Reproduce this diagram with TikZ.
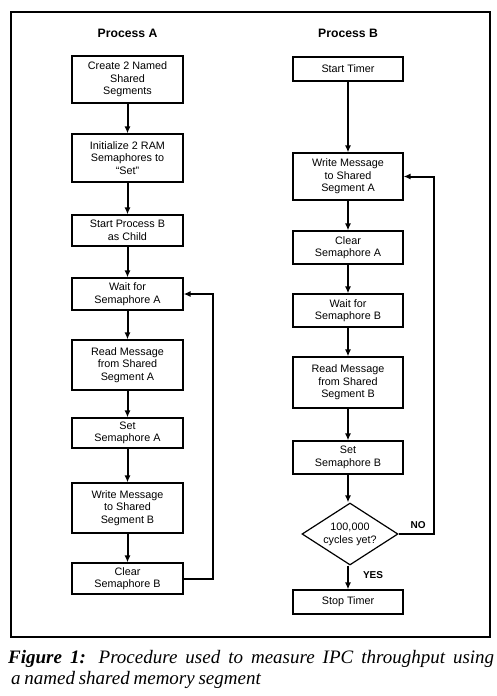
\documentclass[tikz,border=0pt]{standalone}
\usepackage{fontspec}
\setmainfont{Liberation Sans}
\newfontfamily\capfont{Liberation Serif}
\usetikzlibrary{shapes.geometric,arrows.meta}
\begin{document}
\begin{tikzpicture}[x=1pt,y=-1pt,
  boxA/.style={draw,line width=1.2pt,minimum width=111pt,inner sep=0pt,align=center,
    font=\fontsize{10.8}{12.5}\selectfont},
  boxB/.style={boxA,minimum width=110pt},
  title/.style={font=\fontsize{12.2}{14}\selectfont\bfseries},
  conn/.style={line width=2pt,-{Latex[length=7pt,width=6pt]}},
  lbl/.style={font=\fontsize{10}{11}\selectfont\bfseries,inner sep=0pt}]
\useasboundingbox (0,0) rectangle (496,696);
\draw[line width=1.2pt] (11,12) rectangle (490,637);
\node[title] (ta) at (127.5,33) {Process A};
\node[title] (tb) at (348,33) {Process B};
% Process A
\node[boxA,minimum height=47pt] (a1) at (127.5,79.5) {Create 2 Named\\Shared\\Segments};
\node[boxA,minimum height=48pt] (a2) at (127.5,158) {Initialize 2 RAM\\Semaphores to\\``Set''};
\node[boxA,minimum height=31pt] (a3) at (127.5,230.5) {Start Process B\\as Child};
\node[boxA,minimum height=32pt] (a4) at (127.5,294) {Wait for\\Semaphore A};
\node[boxA,minimum height=50pt] (a5) at (127.5,365) {Read Message\\from Shared\\Segment A};
\node[boxA,minimum height=30pt] (a6) at (127.5,433) {Set\\Semaphore A};
\node[boxA,minimum height=50pt] (a7) at (127.5,508) {Write Message\\to Shared\\Segment B};
\node[boxA,minimum height=31pt] (a8) at (127.5,578.5) {Clear\\Semaphore B};
\coordinate (ra) at (213,578.5);
\draw[conn] (a1) -- (a2);
\draw[conn] (a2) -- (a3);
\draw[conn] (a3) -- (a4);
\draw[conn] (a4) -- (a5);
\draw[conn] (a5) -- (a6);
\draw[conn] (a6) -- (a7);
\draw[conn] (a7) -- (a8);
\draw[conn] (a8.east) -- (ra) |- (a4.east);
% Process B
\node[boxB,minimum height=24pt] (b1) at (348,69) {Start Timer};
\node[boxB,minimum height=47pt] (b2) at (348,176.5) {Write Message\\to Shared\\Segment A};
\node[boxB,minimum height=33pt] (b3) at (348,247.5) {Clear\\Semaphore A};
\node[boxB,minimum height=33pt] (b4) at (348,310.5) {Wait for\\Semaphore B};
\node[boxB,minimum height=51pt] (b5) at (348,382.5) {Read Message\\from Shared\\Segment B};
\node[boxB,minimum height=33pt] (b6) at (348,457.5) {Set\\Semaphore B};
\node[draw,diamond,line width=1.2pt,minimum width=96pt,minimum height=62pt,inner sep=0pt,
  label={[align=center,font=\fontsize{10.8}{13}\selectfont]center:100,000\\cycles yet?}] (d) at (350,534) {};
\node[boxB,minimum height=24pt] (b7) at (348,602) {Stop Timer};
\coordinate (rb) at (434,534);
\draw[conn] (b1) -- (b2);
\draw[conn] (b2) -- (b3);
\draw[conn] (b3) -- (b4);
\draw[conn] (b4) -- (b5);
\draw[conn] (b5) -- (b6);
\draw[conn] (b6.south) -- (b6.south |- d.north);
\draw[conn] (d.south -| b7.north) -- node[lbl,right=14pt,pos=0.4] {YES} (b7.north);
\draw[conn] (d.east) -- node[lbl,above=4pt,pos=0.55] {NO} (rb) |- (b2.east);
% caption
\node[anchor=base west,inner sep=0pt,font=\capfont\fontsize{19}{22}\selectfont] (c1) at (8,663)
  {\makebox[486pt][s]{\textbf{\textit{Figure 1:}} \textit{Procedure used to measure IPC throughput using}}};
\node[anchor=base west,inner sep=0pt,font=\capfont\fontsize{19}{22}\selectfont] (c2) at (11,684)
  {\makebox[250pt][s]{\textit{a named shared memory segment}}};
\end{tikzpicture}
\end{document}
